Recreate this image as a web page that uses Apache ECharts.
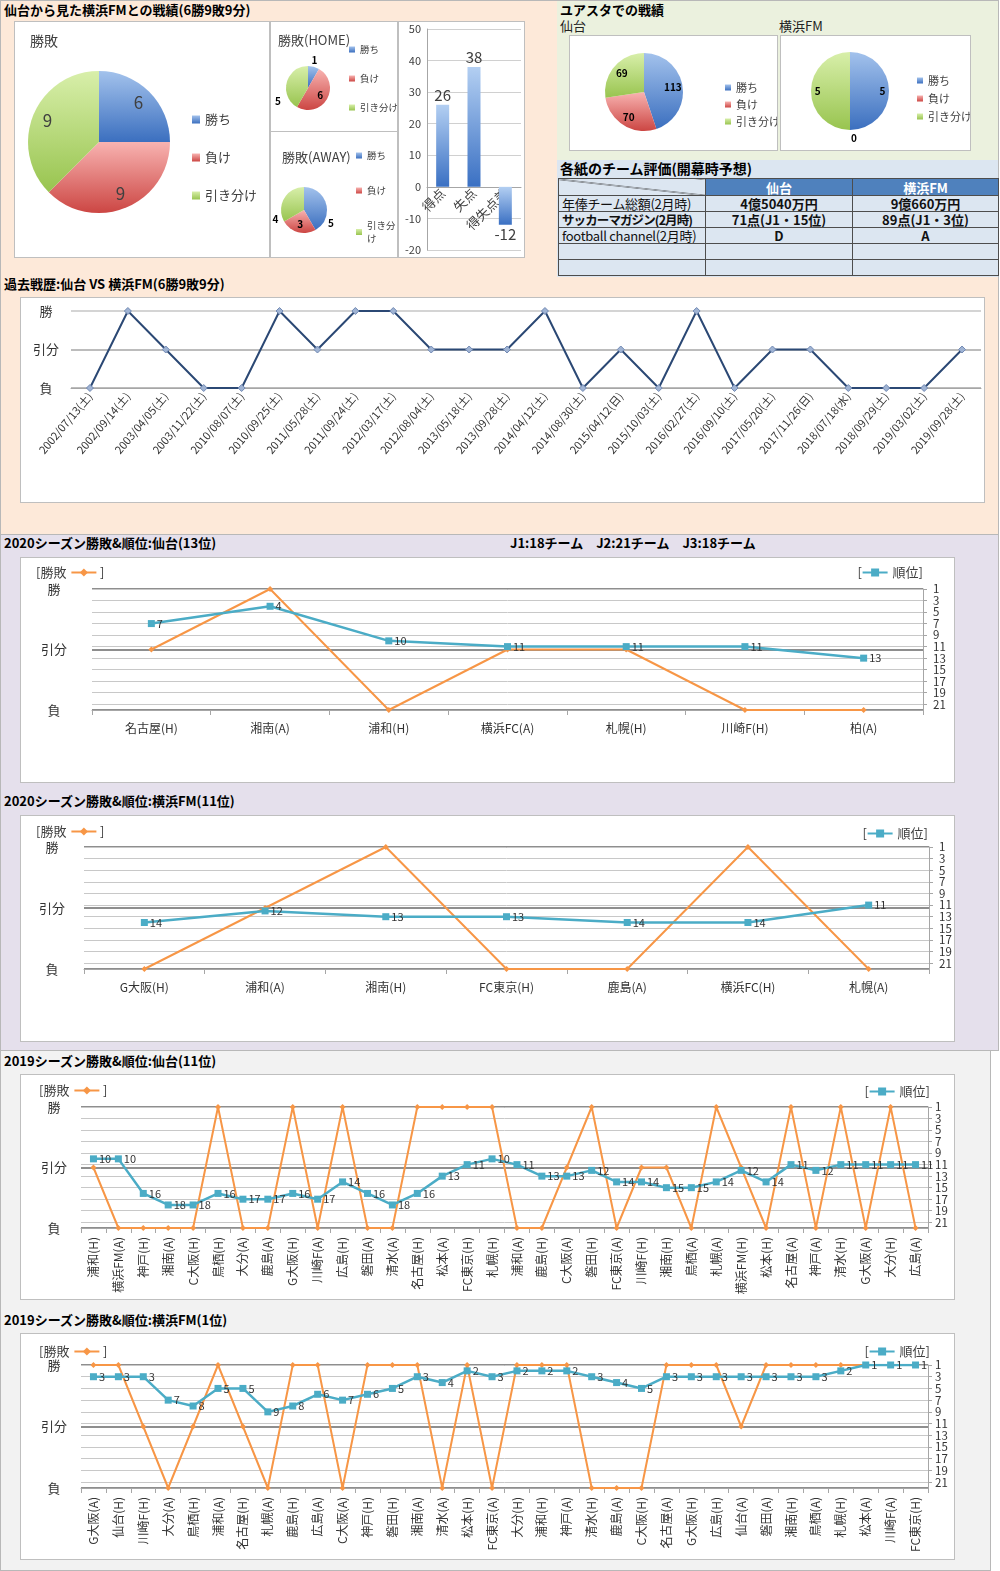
<!DOCTYPE html>
<html lang="ja">
<head>
<meta charset="utf-8">
<title>仙台 vs 横浜FM</title>
<script src="https://cdn.jsdelivr.net/npm/echarts@6.0.0/dist/echarts.min.js"></script>
<style>
html,body{margin:0;padding:0;background:#fff;}
body{font-family:"Noto Sans CJK JP","Noto Sans",sans-serif;color:#000;}
#page{position:relative;width:1000px;height:1571px;overflow:hidden;}
.sec{position:absolute;box-sizing:border-box;border:1px solid #b8b8b8;}
.box{position:absolute;box-sizing:border-box;background:#fff;border:1px solid #bfbfbf;}
.ttl{position:absolute;font-size:13px;font-weight:bold;white-space:nowrap;line-height:18px;}
.lbl{position:absolute;font-size:13px;white-space:nowrap;line-height:18px;color:#222;}
#tbl{position:absolute;left:558px;top:178px;width:440px;border-collapse:collapse;table-layout:fixed;font-size:13px;}
#tbl td{border:1px solid #4d4d4d;height:15px;padding:0;line-height:15px;text-align:center;white-space:nowrap;overflow:hidden;background:#dce6f1;color:#111;}
#tbl td.h{background:#4f81bd;color:#fff;font-weight:bold;}
#tbl td.diag{background:linear-gradient(to top right, transparent calc(50% - 0.7px), #333 50%, transparent calc(50% + 0.7px)) , #dce6f1;}
#tbl td.rl{text-align:left;padding-left:3px;font-weight:normal;letter-spacing:-0.3px;}
#tbl td.v{font-weight:bold;}
</style>
</head>
<body>
<div id="page">
  <!-- section backgrounds -->
  <div class="sec" style="left:0;top:0;width:999px;height:535px;background:#fde9d9;"></div>
  <div class="sec" style="left:0;top:534px;width:999px;height:517px;background:#e5e0ec;"></div>
  <div class="sec" style="left:0;top:1050px;width:991px;height:521px;background:#f2f2f2;"></div>
  <div style="position:absolute;left:557px;top:1px;width:441px;height:159px;background:#ebf1de;"></div>
  <div style="position:absolute;left:557px;top:160px;width:441px;height:117px;background:#dce6f1;"></div>

  <!-- titles -->
  <div class="ttl" style="left:4px;top:1px;">仙台から見た横浜FMとの戦績(6勝9敗9分)</div>
  <div class="ttl" style="left:560px;top:1px;">ユアスタでの戦績</div>
  <div class="lbl" style="left:560px;top:17px;">仙台</div>
  <div class="lbl" style="left:779px;top:17px;">横浜FM</div>
  <div class="ttl" style="left:560px;top:159px;font-size:14px;">各紙のチーム評価(開幕時予想)</div>
  <div class="ttl" style="left:4px;top:275px;">過去戦歴:仙台 VS 横浜FM(6勝9敗9分)</div>
  <div class="ttl" style="left:4px;top:534px;">2020シーズン勝敗&amp;順位:仙台(13位)</div>
  <div class="ttl" style="left:510px;top:534px;">J1:18チーム　J2:21チーム　J3:18チーム</div>
  <div class="ttl" style="left:4px;top:792px;">2020シーズン勝敗&amp;順位:横浜FM(11位)</div>
  <div class="ttl" style="left:4px;top:1052px;">2019シーズン勝敗&amp;順位:仙台(11位)</div>
  <div class="ttl" style="left:4px;top:1311px;">2019シーズン勝敗&amp;順位:横浜FM(1位)</div>

  <!-- chart boxes -->
  <div class="box" id="cMain" style="left:14px;top:21px;width:256px;height:237px;"></div>
  <div class="box" id="cHome" style="left:270px;top:21px;width:128px;height:111px;"></div>
  <div class="box" id="cAway" style="left:270px;top:131px;width:128px;height:127px;"></div>
  <div class="box" id="cBar" style="left:398px;top:21px;width:127px;height:237px;"></div>
  <div class="box" id="cYuaS" style="left:569px;top:35px;width:209px;height:116px;"></div>
  <div class="box" id="cYuaF" style="left:780px;top:35px;width:191px;height:116px;"></div>
  <div class="box" id="cPast" style="left:20px;top:297px;width:965px;height:206px;"></div>
  <div class="box" id="cS2020" style="left:20px;top:557px;width:935px;height:226px;"></div>
  <div class="box" id="cF2020" style="left:20px;top:815px;width:935px;height:227px;"></div>
  <div class="box" id="cS2019" style="left:20px;top:1074px;width:935px;height:226px;"></div>
  <div class="box" id="cF2019" style="left:20px;top:1333px;width:935px;height:227px;"></div>

  <table id="tbl"></table>
</div>
<script>
// ---------------- data ----------------
const pieNames = ['勝ち', '負け', '引き分け'];
const totalRecord = [6, 9, 9];
const homeRecord = [1, 6, 5];
const awayRecord = [5, 3, 4];
const goalCats = ['得点', '失点', '得失点差'];
const goalValues = [26, 38, -12];
const yuaSendai = [113, 70, 69];
const yuaFM = [5, 0, 5];

const tableCols = ['仙台', '横浜FM'];
const tableRowLabels = ['年俸チーム総額(2月時)', 'サッカーマガジン(2月時)', 'football channel(2月時)', '', ''];
const tableSendai = ['4億5040万円', '71点(J1・15位)', 'D', '', ''];
const tableFM = ['9億660万円', '89点(J1・3位)', 'A', '', ''];

const resultLabels = ['負', '引分', '勝'];   // 0 = 負, 1 = 引分, 2 = 勝

const pastDates = ['2002/07/13(土)', '2002/09/14(土)', '2003/04/05(土)', '2003/11/22(土)', '2010/08/07(土)',
  '2010/09/25(土)', '2011/05/28(土)', '2011/09/24(土)', '2012/03/17(土)', '2012/08/04(土)', '2013/05/18(土)',
  '2013/09/28(土)', '2014/04/12(土)', '2014/08/30(土)', '2015/04/12(日)', '2015/10/03(土)', '2016/02/27(土)',
  '2016/09/10(土)', '2017/05/20(土)', '2017/11/26(日)', '2018/07/18(水)', '2018/09/29(土)', '2019/03/02(土)',
  '2019/09/28(土)'];
const pastResults = [0, 2, 1, 0, 0, 2, 1, 2, 2, 1, 1, 1, 2, 0, 1, 0, 2, 0, 1, 1, 0, 0, 0, 1];

const s2020Cats = ['名古屋(H)', '湘南(A)', '浦和(H)', '横浜FC(A)', '札幌(H)', '川崎F(H)', '柏(A)'];
const s2020Res = [1, 2, 0, 1, 1, 0, 0];
const s2020Rank = [7, 4, 10, 11, 11, 11, 13];

const f2020Cats = ['G大阪(H)', '浦和(A)', '湘南(H)', 'FC東京(H)', '鹿島(A)', '横浜FC(H)', '札幌(A)'];
const f2020Res = [0, 1, 2, 0, 0, 2, 0];
const f2020Rank = [14, 12, 13, 13, 14, 14, 11];

const s2019Cats = ['浦和(H)', '横浜FM(A)', '神戸(H)', '湘南(A)', 'C大阪(H)', '鳥栖(H)', '大分(A)', '鹿島(A)',
  'G大阪(H)', '川崎F(A)', '広島(H)', '磐田(A)', '清水(A)', '名古屋(H)', '松本(A)', 'FC東京(H)', '札幌(H)',
  '浦和(A)', '鹿島(H)', 'C大阪(A)', '磐田(H)', 'FC東京(A)', '川崎F(H)', '湘南(H)', '鳥栖(A)', '札幌(A)',
  '横浜FM(H)', '松本(H)', '名古屋(A)', '神戸(A)', '清水(H)', 'G大阪(A)', '大分(H)', '広島(A)'];
const s2019Res = [1, 0, 0, 0, 0, 2, 0, 0, 2, 0, 2, 0, 0, 2, 2, 2, 2, 0, 0, 1, 2, 0, 1, 1, 0, 2, 1, 0, 2, 0, 2, 0, 2, 0];
const s2019Rank = [10, 10, 16, 18, 18, 16, 17, 17, 16, 17, 14, 16, 18, 16, 13, 11, 10, 11, 13, 13, 12, 14, 14, 15, 15, 14, 12, 14, 11, 12, 11, 11, 11, 11];

const f2019Cats = ['G大阪(A)', '仙台(H)', '川崎F(H)', '大分(A)', '鳥栖(H)', '浦和(A)', '名古屋(H)', '札幌(A)',
  '鹿島(H)', '広島(A)', 'C大阪(A)', '神戸(H)', '磐田(H)', '湘南(A)', '清水(A)', '松本(H)', 'FC東京(A)',
  '大分(H)', '浦和(H)', '神戸(A)', '清水(H)', '鹿島(A)', 'C大阪(H)', '名古屋(A)', 'G大阪(H)', '広島(H)',
  '仙台(A)', '磐田(A)', '湘南(H)', '鳥栖(A)', '札幌(H)', '松本(A)', '川崎F(A)', 'FC東京(H)'];
const f2019Res = [2, 2, 1, 0, 1, 2, 1, 0, 2, 2, 0, 2, 2, 2, 0, 2, 0, 2, 2, 2, 0, 0, 0, 2, 2, 2, 1, 2, 2, 2, 2, 2, 2, 2];
const f2019Rank = [3, 3, 3, 7, 8, 5, 5, 9, 8, 6, 7, 6, 5, 3, 4, 2, 3, 2, 2, 2, 3, 4, 5, 3, 3, 3, 3, 3, 3, 3, 2, 1, 1, 1];

// ---------------- helpers ----------------
const FONT = '"Noto Sans CJK JP","Noto Sans",sans-serif';
function lg(c1, c2) {
  return { type: 'linear', x: 0, y: 0, x2: 0, y2: 1, colorStops: [{ offset: 0, color: c1 }, { offset: 1, color: c2 }] };
}
function pieColors() {
  return [lg('#a3c2ec', '#3b6fbf'), lg('#f8b3b1', '#cc4643'), lg('#d8efaa', '#98c44f')];
}
function pieData(vals, labelCfg) {
  const cols = pieColors();
  return vals.map((v, i) => {
    const d = { name: pieNames[i], value: v, itemStyle: { color: cols[i] } };
    if (labelCfg && labelCfg[i]) d.label = labelCfg[i];
    return d;
  });
}
// push "inside" labels further out along the radius (Excel best-fit look)
function radial(cx, cy, ks, nudges) {
  return function (p) {
    const k = ks[p.dataIndex];
    if (!k || k === 1) return (nudges && nudges[p.dataIndex]) || {};
    const r = p.labelRect;
    const lx = r.x + r.width / 2, ly = r.y + r.height / 2;
    return { x: cx + (lx - cx) * k, y: cy + (ly - cy) * k, align: 'center', verticalAlign: 'middle' };
  };
}
// small label nudges imitating Excel's best-fit placement of outside labels
function nudge(arr) {
  return function (p) { return arr[p.dataIndex] || {}; };
}
function mk(id, opt) {
  const c = echarts.init(document.getElementById(id), null, { renderer: 'canvas' });
  opt.animation = false;
  opt.textStyle = { fontFamily: FONT };
  c.setOption(opt);
  return c;
}
const TXT = '#404040';

// ---------------- main pie ----------------
mk('cMain', {
  title: { text: '勝敗', left: 10, top: 7, textStyle: { fontSize: 14, fontWeight: 'normal', color: TXT, fontFamily: FONT } },
  legend: { orient: 'vertical', left: 172, top: 84, itemWidth: 8, itemHeight: 8, itemGap: 21, icon: 'rect',
    textStyle: { fontSize: 13, color: TXT, lineHeight: 17, fontFamily: FONT }, data: pieNames },
  series: [{
    type: 'pie', center: [84, 120], radius: 71, avoidLabelOverlap: false, data: pieData(totalRecord),
    label: { show: true, position: 'inside', fontSize: 17, color: TXT, formatter: '{c}' },
    labelLine: { show: false }, labelLayout: radial(84, 120, [1.45, 1.45, 1.45]), emphasis: { scale: false }
  }]
});

// ---------------- home pie ----------------
const outL = { position: 'outside' }, inL = { position: 'inside' };
mk('cHome', {
  title: { text: '勝敗(HOME)', left: 2, top: 7, textStyle: { fontSize: 13, fontWeight: 'normal', color: TXT, fontFamily: FONT } },
  legend: { orient: 'vertical', left: 73, top: 16, itemWidth: 6, itemHeight: 6, itemGap: 16, icon: 'rect',
    textStyle: { fontSize: 9.5, color: TXT, lineHeight: 13, fontFamily: FONT }, data: pieNames },
  series: [{
    type: 'pie', center: [37, 66], radius: 22, avoidLabelOverlap: false,
    data: pieData(homeRecord, [outL, inL, outL]),
    label: { show: true, fontSize: 10, fontWeight: 'bold', color: '#000', formatter: '{c}' },
    labelLine: { show: false, length: 3, length2: 0 }, emphasis: { scale: false },
    labelLayout: nudge([{ dx: -8, dy: -4 }, null, { dx: 2, dy: 20 }])
  }]
});

// ---------------- away pie ----------------
mk('cAway', {
  title: { text: '勝敗(AWAY)', left: 6, top: 14, textStyle: { fontSize: 13, fontWeight: 'normal', color: TXT, fontFamily: FONT } },
  legend: { orient: 'vertical', left: 85, top: 17, height: 108, padding: 0, itemWidth: 6, itemHeight: 6, itemGap: 22, icon: 'rect',
    formatter: n => n === '引き分け' ? '引き分\nけ' : n,
    textStyle: { fontSize: 9.5, color: TXT, lineHeight: 13, fontFamily: FONT }, data: pieNames },
  series: [{
    type: 'pie', center: [33, 78], radius: 23, avoidLabelOverlap: false,
    data: pieData(awayRecord, [outL, inL, outL]),
    label: { show: true, fontSize: 10, fontWeight: 'bold', color: '#000', formatter: '{c}' },
    labelLine: { show: false, length: 3, length2: 0 }, emphasis: { scale: false },
    labelLayout: nudge([{ dx: -6, dy: 20 }, null, { dx: 2, dy: 22 }])
  }]
});

// ---------------- goals bar ----------------
// value axis runs -20..50 over the plot; category labels sit on the zero line (offset = 20/70 of plot height)
const barGrid = { left: 28, right: 3, top: 7, bottom: 7 };
const barPlotH = 235 - barGrid.top - barGrid.bottom;
mk('cBar', {
  grid: Object.assign({ outerBoundsMode: 'none' }, barGrid),
  xAxis: { type: 'category', data: goalCats, position: 'bottom', offset: -barPlotH * 20 / 70,
    axisLine: { onZero: false, lineStyle: { color: '#a6a6a6' } }, axisTick: { show: false },
    axisLabel: { rotate: 45, fontSize: 13, color: TXT, margin: 4, interval: 0 } },
  yAxis: { type: 'value', min: -20, max: 50, interval: 10,
    axisLabel: { fontSize: 11, color: TXT, margin: 6 },
    axisLine: { show: true, lineStyle: { color: '#a6a6a6' } }, axisTick: { show: false },
    splitLine: { lineStyle: { color: '#d0d0d0' } } },
  series: [{
    type: 'bar', barWidth: 13,
    data: goalValues.map(v => v < 0 ? { value: v, label: { position: 'bottom' } } : v),
    itemStyle: { color: lg('#b3cff2', '#3a70c3') },
    label: { show: true, position: 'top', distance: 2, fontSize: 15, color: TXT }
  }]
});

// ---------------- yuasta pies ----------------
mk('cYuaS', {
  legend: { orient: 'vertical', left: 150, top: 40, itemWidth: 6, itemHeight: 6, itemGap: 4, icon: 'rect',
    textStyle: { fontSize: 11, color: TXT, lineHeight: 13, fontFamily: FONT }, data: pieNames },
  series: [{
    type: 'pie', center: [74, 56], radius: 39, avoidLabelOverlap: false, data: pieData(yuaSendai),
    label: { show: true, position: 'inside', fontSize: 10, fontWeight: 'bold', color: '#000', formatter: '{c}' },
    labelLine: { show: false }, labelLayout: radial(74, 56, [1.3, 1.3, 1.3]), emphasis: { scale: false }
  }]
});
mk('cYuaF', {
  legend: { orient: 'vertical', left: 131, top: 33, itemWidth: 6, itemHeight: 6, itemGap: 5, icon: 'rect',
    textStyle: { fontSize: 11, color: TXT, lineHeight: 13, fontFamily: FONT }, data: pieNames },
  series: [{
    type: 'pie', center: [69, 55], radius: 39, avoidLabelOverlap: false,
    data: pieData(yuaFM, [inL, { position: 'outside' }, inL]),
    label: { show: true, fontSize: 10, fontWeight: 'bold', color: '#000', formatter: '{c}' },
    labelLine: { show: false, length: 4, length2: 0 },
    labelLayout: radial(69, 55, [1.44, 1, 1.44], [null, { dx: -4, dy: 4 }, null]), emphasis: { scale: false }
  }]
});

// ---------------- table ----------------
(function () {
  const t = document.getElementById('tbl');
  let h = '<colgroup><col style="width:147px"><col style="width:147px"><col style="width:146px"></colgroup>';
  h += '<tr><td class="diag" style="height:16px"></td><td class="h">' + tableCols[0] + '</td><td class="h">' + tableCols[1] + '</td></tr>';
  for (let i = 0; i < tableRowLabels.length; i++) {
    const st = i === 1 ? ' style="font-weight:bold;letter-spacing:-0.9px;font-size:12.5px"' : '';
    h += '<tr><td class="rl"' + st + '>' + tableRowLabels[i] + '</td><td class="v">' + tableSendai[i] + '</td><td class="v">' + tableFM[i] + '</td></tr>';
  }
  t.innerHTML = h;
})();

// ---------------- past results ----------------
mk('cPast', {
  grid: { left: 50, right: 3, top: 13, bottom: 114, outerBoundsMode: 'none' },
  xAxis: { type: 'category', data: pastDates,
    axisLine: { lineStyle: { color: '#a6a6a6' } }, axisTick: { length: 5, lineStyle: { color: '#a6a6a6' } },
    axisLabel: { interval: 0, rotate: 50, fontSize: 11, color: '#333', margin: 6 } },
  yAxis: { type: 'value', min: 0, max: 2, interval: 1,
    axisLabel: { formatter: v => resultLabels[v], align: 'center', margin: 25, fontSize: 13, color: '#333' },
    axisLine: { show: false }, axisTick: { show: false },
    splitLine: { lineStyle: { color: ['#a6a6a6', '#a6a6a6', '#c6c6c6'], width: 1.6 } } },
  series: [{ type: 'line', data: pastResults, symbol: 'diamond', symbolSize: 7,
    lineStyle: { color: '#2b4874', width: 2 }, itemStyle: { color: '#9fb3d3', borderColor: '#7189b3', borderWidth: 1 } }]
});

// ---------------- season charts ----------------
function seasonOpt(cats, res, rank, c) {
  return {
    grid: { left: c.left, right: c.right, top: c.top, bottom: c.bottom, outerBoundsMode: 'none' },
    legend: [
      { data: ['勝敗'], left: c.ll, top: c.lt, align: 'right', formatter: '[勝敗', itemWidth: 25, itemHeight: 10, itemGap: 0,
        textStyle: { fontSize: 13, color: TXT, fontFamily: FONT } },
      { data: ['順位'], right: c.lr, top: c.rt, align: 'left', formatter: '順位]', itemWidth: 25, itemHeight: 10, itemGap: 0,
        textStyle: { fontSize: 13, color: TXT, fontFamily: FONT } }
    ],
    graphic: [
      { type: 'text', left: c.ll + 69, top: c.lt + 5, style: { text: ']', fontSize: 13, fill: TXT, fontFamily: FONT } },
      { type: 'text', right: c.lr + 66, top: c.rt + 5, style: { text: '[', fontSize: 13, fill: TXT, fontFamily: FONT } }
    ],
    xAxis: { type: 'category', data: cats, boundaryGap: true,
      axisLine: { lineStyle: { color: '#a6a6a6' } }, axisTick: { show: true, length: 5, lineStyle: { color: '#a6a6a6' } },
      axisLabel: { interval: 0, rotate: c.rot, fontSize: 12, color: '#333', margin: c.xm } },
    yAxis: [
      { type: 'value', min: 0, max: 2, interval: 1, position: 'left',
        axisLabel: { formatter: v => resultLabels[v], align: 'center', margin: c.lm, fontSize: 13, color: '#333' },
        axisLine: { show: false }, axisTick: { show: false },
        splitLine: { lineStyle: { color: '#8e8e8e', width: 2 } } },
      { type: 'value', min: 1, max: 22, interval: 2, inverse: true, position: 'right',
        axisLabel: { formatter: v => v === 22 ? '' : String(v), showMinLabel: true, showMaxLabel: false,
          margin: c.rm, fontSize: 11.5, lineHeight: 9, color: '#333' },
        axisLine: { show: true, lineStyle: { color: '#a6a6a6' } }, axisTick: { show: true, length: 4, lineStyle: { color: '#a6a6a6' } },
        splitLine: { show: true, lineStyle: { color: '#c8c8c8', width: 1 } } }
    ],
    series: [
      { name: '勝敗', type: 'line', yAxisIndex: 0, data: res, symbol: 'diamond', symbolSize: 6,
        lineStyle: { color: '#f79646', width: 2 }, itemStyle: { color: '#f79646' }, z: 2 },
      { name: '順位', type: 'line', yAxisIndex: 1, data: rank, symbol: 'rect', symbolSize: 7,
        lineStyle: { color: '#4bacc6', width: 2.5 }, itemStyle: { color: '#4bacc6' }, z: 3,
        label: { show: true, position: 'right', distance: 2, fontSize: 11, color: '#333' } }
    ]
  };
}
mk('cS2020', seasonOpt(s2020Cats, s2020Res, s2020Rank,
  { left: 71, right: 31, top: 31, bottom: 72, ll: 10, lt: 3, lr: 26, rt: 3, rot: 0, xm: 12, lm: 38, rm: 10 }));
mk('cF2020', seasonOpt(f2020Cats, f2020Res, f2020Rank,
  { left: 63, right: 25, top: 31, bottom: 72, ll: 10, lt: 4, lr: 21, rt: 6, rot: 0, xm: 12, lm: 32, rm: 10 }));
mk('cS2019', seasonOpt(s2019Cats, s2019Res, s2019Rank,
  { left: 60, right: 26, top: 32, bottom: 71, ll: 13, lt: 4, lr: 19, rt: 5, rot: 90, xm: 9, lm: 27, rm: 7 }));
mk('cF2019', seasonOpt(f2019Cats, f2019Res, f2019Rank,
  { left: 60, right: 26, top: 31, bottom: 71, ll: 13, lt: 6, lr: 19, rt: 6, rot: 90, xm: 9, lm: 27, rm: 7 }));
</script>
</body>
</html>
